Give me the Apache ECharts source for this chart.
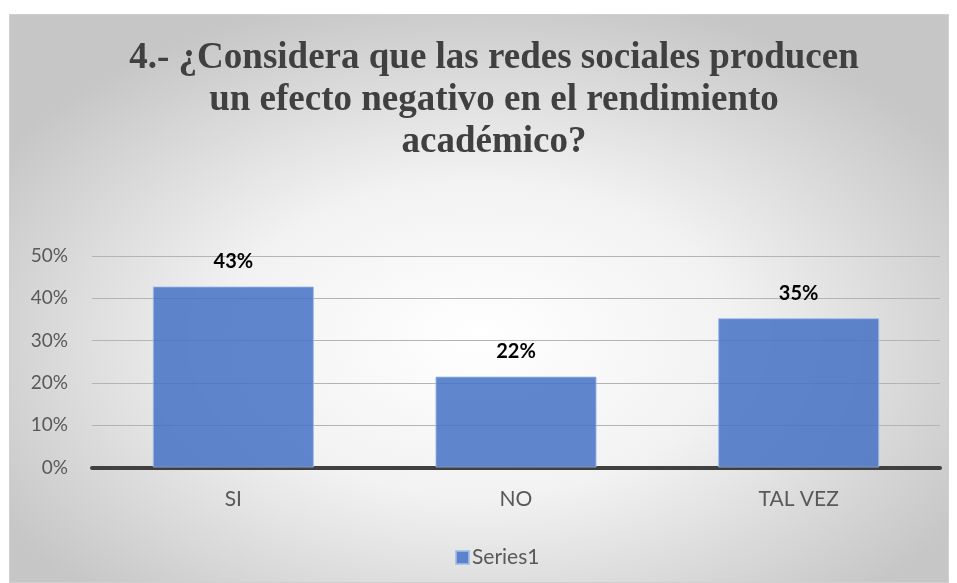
<!DOCTYPE html>
<html>
<head>
<meta charset="utf-8">
<script src="https://cdn.jsdelivr.net/npm/echarts@6/dist/echarts.min.js"></script>
<style>
  html, body { margin: 0; padding: 0; background: #fff; }
  #frame {
    position: absolute; left: 9px; top: 14px; width: 938px; height: 567px;
    border: 1px solid #d0d0d0;
    background: radial-gradient(ellipse 60% 62% at 50% 57%, #ffffff 0%, #f2f2f2 45%, #c6c6c6 100%);
  }
  #main { position: absolute; left: 0; top: 0; width: 957px; height: 583px; }
</style>
</head>
<body>
<div id="frame"></div>
<div id="main"></div>
<script>
// datos de la encuesta
const categories = ['SI', 'NO', 'TAL VEZ'];
const values = [0.428, 0.215, 0.353];
const yTicks = [0, 0.1, 0.2, 0.3, 0.4, 0.5];
const titleText = '4.- ¿Considera que las redes sociales producen\nun efecto negativo en el rendimiento\nacadémico?';

let myChart = echarts.init(document.getElementById('main'));
let option = {
  backgroundColor: 'transparent',
  animation: false,
  title: {
    text: titleText,
    left: 489,
    textAlign: 'center',
    top: 32,
    textStyle: {
      fontFamily: 'Liberation Serif',
      fontWeight: 'bold',
      fontSize: 37,
      lineHeight: 42,
      color: '#404040'
    }
  },
  legend: {
    left: 450,
    top: 542,
    itemWidth: 13,
    itemHeight: 13,
    itemGap: 4,
    icon: 'rect',
    textStyle: { fontFamily: 'Lato', fontSize: 21, color: '#595959', padding: [0, 0, 0, -2] },
    data: ['Series1']
  },
  grid: { left: 92, right: 17, top: 256, bottom: 115.5 },
  xAxis: {
    type: 'category',
    data: categories,
    axisLine: { lineStyle: { color: '#404040', width: 4 } },
    axisTick: { show: false },
    axisLabel: { fontFamily: 'Lato', fontSize: 21, color: '#595959', margin: 21 }
  },
  yAxis: {
    type: 'value',
    min: yTicks[0],
    max: yTicks[yTicks.length - 1],
    interval: 0.1,
    axisLine: { show: false },
    axisTick: { show: false },
    splitLine: { lineStyle: { color: '#b4b4b4', width: 1 } },
    axisLabel: {
      fontFamily: 'Lato', fontSize: 19, color: '#595959', margin: 24,
      formatter: v => Math.round(v * 100) + '%'
    }
  },
  series: [{
    name: 'Series1',
    type: 'bar',
    data: values,
    barWidth: '57%',
    itemStyle: {
      color: 'rgba(68,114,196,0.85)',
      borderColor: 'rgba(160,190,235,0.8)',
      borderWidth: 1
    },
    label: {
      show: true,
      position: 'top',
      distance: 15,
      fontFamily: 'Lato',
      fontWeight: 'bold',
      fontSize: 20,
      color: '#000',
      formatter: p => Math.round(p.value * 100) + '%'
    }
  }]
};
myChart.setOption(option);
</script>
</body>
</html>
